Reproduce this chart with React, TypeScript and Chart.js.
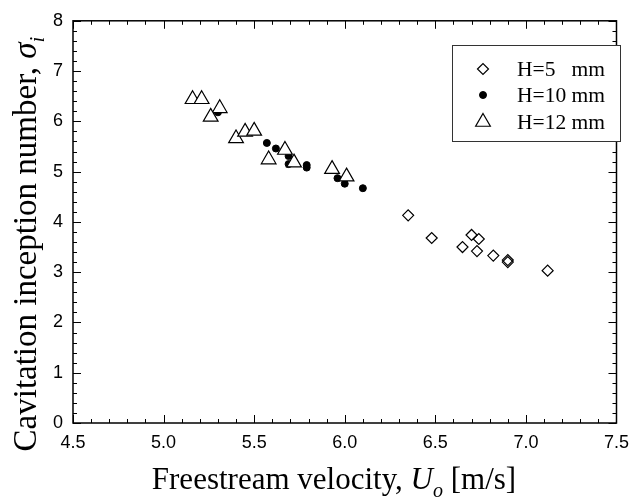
import React, { useEffect, useRef } from 'react';
import { Chart, registerables } from 'chart.js';
import { drawPoint } from 'chart.js/helpers';

Chart.register(...registerables);

// H = 5 mm (open diamonds)
const h5X = [6.35, 6.48, 6.65, 6.70, 6.74, 6.73, 6.82, 6.90, 6.90, 7.12];
const h5Y = [4.13, 3.68, 3.50, 3.74, 3.66, 3.42, 3.33, 3.24, 3.20, 3.03];

// H = 10 mm (filled circles)
const h10X = [5.30, 5.57, 5.62, 5.69, 5.69, 5.79, 5.79, 5.96, 6.00, 6.10];
const h10Y = [6.18, 5.57, 5.46, 5.31, 5.15, 5.13, 5.08, 4.87, 4.76, 4.67];

// H = 12 mm (open triangles)
const h12X = [5.16, 5.21, 5.31, 5.26, 5.40, 5.45, 5.50, 5.67, 5.58, 5.72, 5.93, 6.01];
const h12Y = [6.44, 6.44, 6.26, 6.09, 5.66, 5.79, 5.81, 5.43, 5.24, 5.18, 5.05, 4.90];

const legendLabels = ['H=5', 'H=10', 'H=12'];
const legendUnit = 'mm';

const xMin = 4.5, xMax = 7.5, xStep = 0.5, xMinor = 0.1;
const yMin = 0, yMax = 8, yStep = 1, yMinor = 0.2;

const SERIF = '"Liberation Serif", "Times New Roman", Times, serif';
const SANS = '"Liberation Sans", Arial, Helvetica, sans-serif';

const toPts = (xs: number[], ys: number[]) => xs.map((x, i) => ({ x, y: ys[i] }));

const framePlugin = {
  id: 'frameTicks',
  afterDraw(chart: any) {
    const { ctx, chartArea: a, scales } = chart;
    const x = scales.x, y = scales.y;
    ctx.save();
    ctx.strokeStyle = '#000';
    ctx.lineWidth = 1;
    ctx.beginPath();
    const nx = Math.round((xMax - xMin) / xMinor);
    const perX = Math.round(xStep / xMinor);
    for (let i = 0; i <= nx; i++) {
      const px = Math.round(x.getPixelForValue(xMin + i * xMinor)) + 0.5;
      const len = i % perX === 0 ? 8 : 4;
      ctx.moveTo(px, a.bottom); ctx.lineTo(px, a.bottom - len);
      ctx.moveTo(px, a.top); ctx.lineTo(px, a.top + len);
    }
    const ny = Math.round((yMax - yMin) / yMinor);
    const perY = Math.round(yStep / yMinor);
    for (let i = 0; i <= ny; i++) {
      const py = Math.round(y.getPixelForValue(yMin + i * yMinor)) + 0.5;
      const len = i % perY === 0 ? 8 : 4;
      ctx.moveTo(a.left, py); ctx.lineTo(a.left + len, py);
      ctx.moveTo(a.right, py); ctx.lineTo(a.right - len, py);
    }
    ctx.stroke();
    ctx.lineWidth = 1.5;
    ctx.strokeRect(a.left, a.top, a.right - a.left, a.bottom - a.top);
    ctx.restore();
  },
};

const titlePlugin = {
  id: 'axisTitles',
  afterDraw(chart: any) {
    const { ctx } = chart;
    ctx.save();
    ctx.fillStyle = '#000';
    ctx.textBaseline = 'alphabetic';
    ctx.textAlign = 'left';
    // X title
    const xb = 31, xs = 20;
    const parts = [
      { t: 'Freestream velocity, ', f: `${xb}px ${SERIF}`, dy: 0 },
      { t: 'U', f: `italic ${xb}px ${SERIF}`, dy: 0 },
      { t: 'o', f: `italic ${xs}px ${SERIF}`, dy: 8 },
      { t: ' [m/s]', f: `${xb}px ${SERIF}`, dy: 0 },
    ];
    let w = 0;
    parts.forEach(p => { ctx.font = p.f; w += ctx.measureText(p.t).width; });
    let cx = 334 - w / 2;
    const baseX = 489;
    parts.forEach(p => { ctx.font = p.f; ctx.fillText(p.t, cx, baseX + p.dy); cx += ctx.measureText(p.t).width; });

    // Y title
    const yb = 33, ys = 21;
    const yparts = [
      { t: 'Cavitation inception number, ', f: `${yb}px ${SERIF}`, dy: 0 },
      { t: '\u03C3', f: `italic ${yb}px ${SERIF}`, dy: 0 },
      { t: 'i', f: `italic ${ys}px ${SERIF}`, dy: 8 },
    ];
    let wy = 0;
    yparts.forEach(p => { ctx.font = p.f; wy += ctx.measureText(p.t).width; });
    ctx.translate(36, 244);
    ctx.rotate(-Math.PI / 2);
    let cy = -wy / 2;
    yparts.forEach(p => { ctx.font = p.f; ctx.fillText(p.t, cy, p.dy); cy += ctx.measureText(p.t).width; });
    ctx.restore();
  },
};

const legendPlugin = {
  id: 'boxLegend',
  afterDraw(chart: any) {
    const { ctx } = chart;
    const ds = chart.data.datasets;
    ctx.save();
    ctx.strokeStyle = '#333';
    ctx.lineWidth = 1;
    ctx.fillStyle = '#fff';
    ctx.fillRect(452, 45, 168, 96);
    ctx.strokeRect(452.5, 45.5, 168, 96);
    const rows = [69, 95, 122];
    ctx.font = `21.5px ${SERIF}`;
    ctx.textBaseline = 'middle';
    ctx.textAlign = 'left';
    const unitX = 517 + ctx.measureText('H=10 ').width;
    const order = [2, 1, 0];
    order.forEach((di, r) => {
      const d = ds[di];
      ctx.save();
      ctx.strokeStyle = d.borderColor;
      ctx.fillStyle = d.backgroundColor;
      ctx.lineWidth = d.borderWidth;
      drawPoint(ctx, { pointStyle: d.pointStyle, radius: d.pointRadius, rotation: 0, borderWidth: d.borderWidth }, 483, rows[r]);
      ctx.restore();
      ctx.fillStyle = '#000';
      ctx.fillText(legendLabels[r], 517, rows[r] + 1);
      ctx.fillText(legendUnit, unitX, rows[r] + 1);
    });
    ctx.restore();
  },
};

export default function App() {
  const ref = useRef<HTMLCanvasElement | null>(null);
  useEffect(() => {
    if (!ref.current) return;
    const chart = new Chart(ref.current, {
      type: 'scatter',
      data: {
        datasets: [
          {
            label: 'H=12 mm', data: toPts(h12X, h12Y), pointStyle: 'triangle', pointRadius: 8.5,
            borderColor: '#000', backgroundColor: '#fff', borderWidth: 1.2, order: 0,
          },
          {
            label: 'H=10 mm', data: toPts(h10X, h10Y), pointStyle: 'circle', pointRadius: 3.5,
            borderColor: '#000', backgroundColor: '#000', borderWidth: 1, order: 1,
          },
          {
            label: 'H=5 mm', data: toPts(h5X, h5Y), pointStyle: 'rectRot', pointRadius: 5.5,
            borderColor: '#000', backgroundColor: 'rgba(255,255,255,0)', borderWidth: 1.2, order: 2,
          },
        ] as any,
      },
      options: {
        animation: false,
        responsive: true,
        maintainAspectRatio: false,
        layout: { padding: { top: 14, right: 18, bottom: 0, left: 0 } },
        plugins: { legend: { display: false }, tooltip: { enabled: false } },
        scales: {
          x: {
            type: 'linear', min: xMin, max: xMax,
            grid: { display: false, drawTicks: false },
            border: { display: false },
            ticks: {
              stepSize: xStep, padding: 9, color: '#000',
              font: { family: SANS, size: 18 },
              callback: (v: any) => Number(v).toFixed(1),
            },
            afterFit: (s: any) => { s.height = 79; },
          },
          y: {
            type: 'linear', min: yMin, max: yMax,
            grid: { display: false, drawTicks: false },
            border: { display: false },
            ticks: {
              stepSize: yStep, padding: 10, color: '#000',
              font: { family: SANS, size: 18 },
              callback: (v: any) => String(v),
            },
            afterFit: (s: any) => { s.width = 73; },
          },
        },
      } as any,
      plugins: [framePlugin, legendPlugin, titlePlugin],
    });
    return () => chart.destroy();
  }, []);
  return (
    <div style={{ position: 'absolute', left: 0, top: 0, width: 638, height: 502, background: '#fff' }}>
      <canvas ref={ref} />
    </div>
  );
}
